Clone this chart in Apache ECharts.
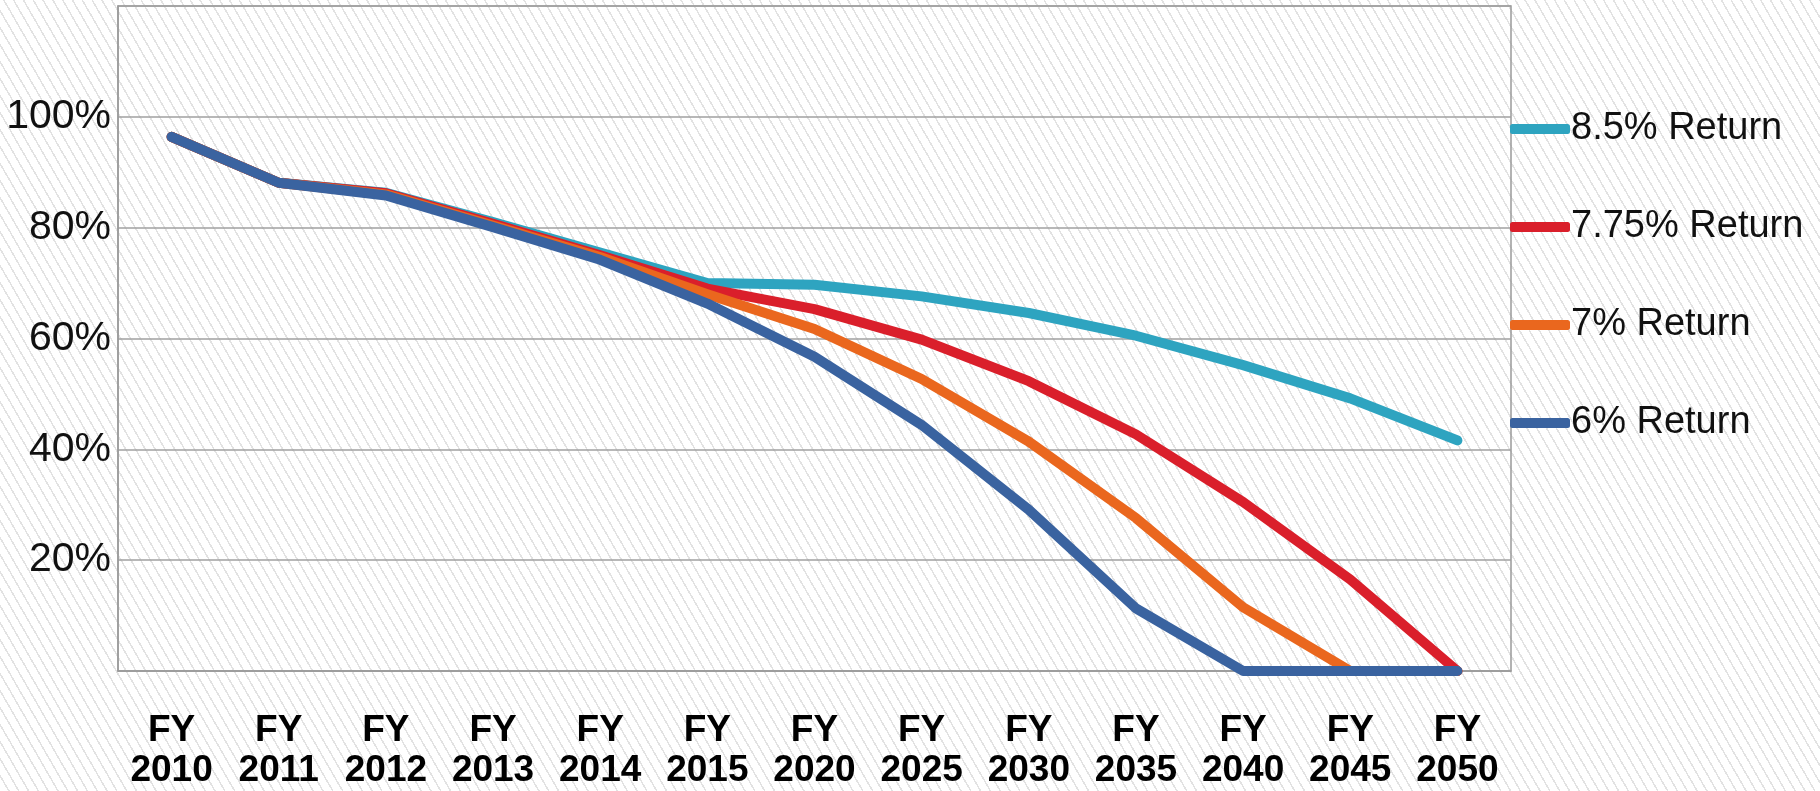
<!DOCTYPE html>
<html>
<head>
<meta charset="utf-8">
<script src="https://cdn.jsdelivr.net/npm/echarts@6/dist/echarts.min.js"></script>
<style>
  html, body { margin: 0; padding: 0; }
  body {
    width: 1820px; height: 791px; overflow: hidden;
    background-color: #ffffff;
    background-image: repeating-linear-gradient(60deg, #ffffff 0px, #ffffff 7px, #e2e2e2 7px, #e2e2e2 8.5px);
  }
  #chart { width: 1820px; height: 791px; }
</style>
</head>
<body>
<div id="chart"></div>
<script>
const years = ['2010','2011','2012','2013','2014','2015','2020','2025','2030','2035','2040','2045','2050'];
const seriesNames = ['8.5% Return','7.75% Return','7% Return','6% Return'];
const return85  = [96.4, 88.1, 86.3, 81.0, 75.5, 70.0, 69.7, 67.6, 64.6, 60.5, 55.2, 49.2, 41.6];
const return775 = [96.4, 88.1, 86.2, 80.7, 75.0, 69.0, 65.3, 59.8, 52.3, 42.7, 30.5, 16.5, 0];
const return7   = [96.4, 88.1, 86.0, 80.4, 74.7, 68.0, 61.7, 52.7, 41.4, 27.6, 11.5, 0, 0];
const return6   = [96.4, 88.1, 85.8, 80.1, 74.2, 66.3, 56.7, 44.4, 29.1, 11.3, 0, 0, 0];
const colors = ['#2ea4c0', '#da1f2b', '#ea671e', '#3a63a0'];

const chart = echarts.init(document.getElementById('chart'), null, { renderer: 'canvas' });
const dataSets = [return85, return775, return7, return6];
const series = dataSets.map((d, i) => ({
  name: seriesNames[i],
  type: 'line',
  data: d,
  symbol: 'none',
  clip: false,
  lineStyle: { width: 10, color: colors[i], cap: 'round', join: 'round' },
  itemStyle: { color: colors[i] },
  z: 2 + i
}));

chart.setOption({
  backgroundColor: 'transparent',
  animation: false,
  color: colors,
  grid: {
    left: 118, right: 309, top: 6, bottom: 113,
    show: true, borderColor: '#9a9a9a', borderWidth: 1.5,
    backgroundColor: 'transparent'
  },
  legend: {
    orient: 'vertical',
    left: 1505,
    top: 104,
    icon: 'roundRect',
    itemWidth: 60,
    itemHeight: 10,
    itemGap: 58,
    data: seriesNames,
    textStyle: { fontFamily: 'Liberation Sans, Arial, sans-serif', fontSize: 38, color: '#111', lineHeight: 40, padding: [0, 0, 0, -4] }
  },
  xAxis: {
    type: 'category',
    data: years,
    boundaryGap: true,
    axisLine: { show: true, lineStyle: { color: '#9a9a9a', width: 1.5 } },
    axisTick: { show: false },
    axisLabel: {
      interval: 0,
      margin: 40,
      formatter: v => 'FY\n' + v,
      fontFamily: 'Liberation Sans, Arial, sans-serif',
      fontWeight: 'bold',
      fontSize: 37,
      lineHeight: 40,
      color: '#000'
    },
    splitLine: { show: false }
  },
  yAxis: {
    type: 'value',
    min: 0, max: 120, interval: 20,
    axisLine: { show: true, lineStyle: { color: '#9a9a9a', width: 1.5 } },
    axisTick: { show: false },
    axisLabel: {
      margin: 7,
      formatter: v => (v === 0 || v === 120) ? '' : v + '%',
      fontFamily: 'Liberation Sans, Arial, sans-serif',
      fontSize: 41,
      color: '#111'
    },
    splitLine: { show: true, lineStyle: { color: '#a0a0a0', width: 1.5 } }
  },
  series: series
});
</script>
</body>
</html>
